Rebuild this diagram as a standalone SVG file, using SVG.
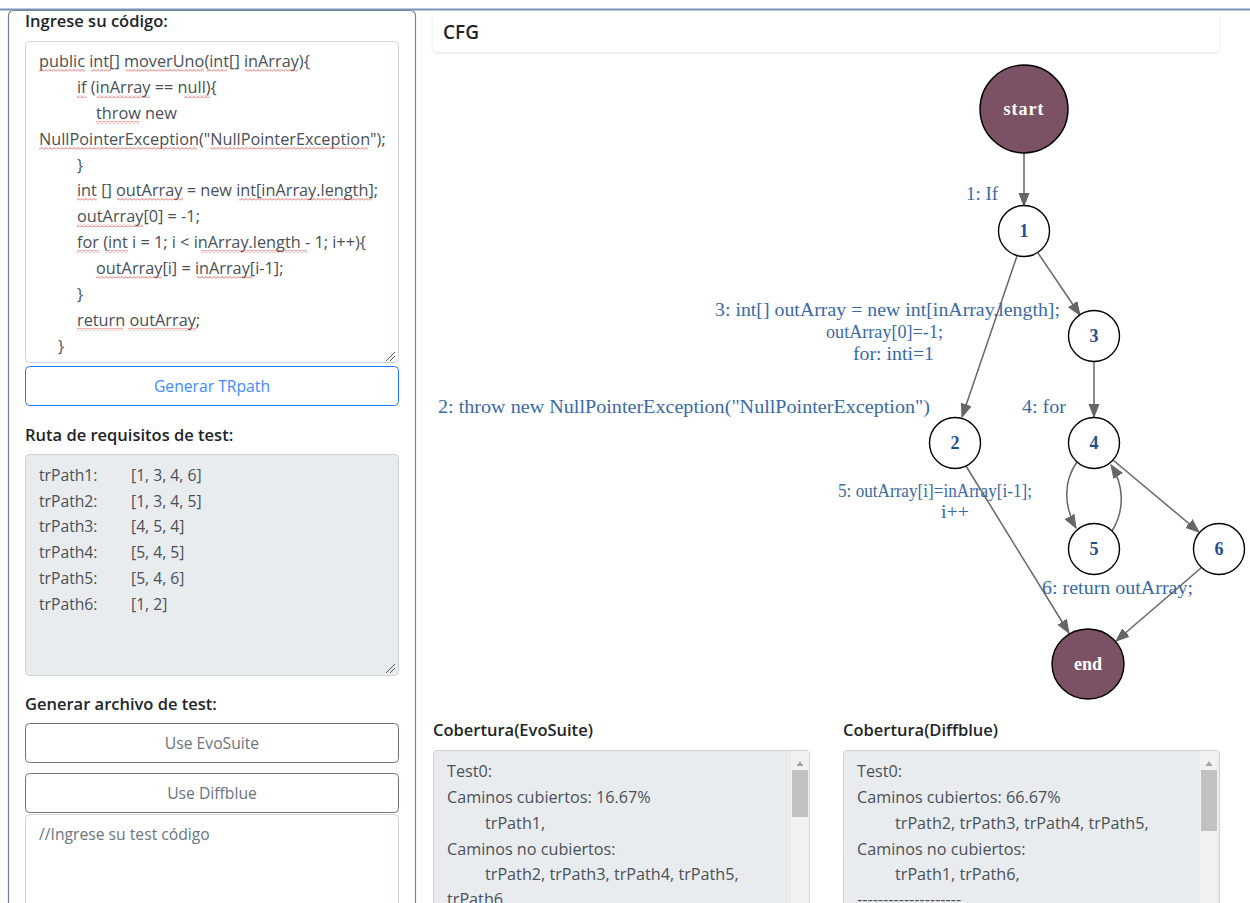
<svg xmlns="http://www.w3.org/2000/svg" width="1250" height="903" viewBox="0 0 1250 903">
  <style>
    .ui { font-family: "Open Sans", "Noto Sans", "Liberation Sans", sans-serif; }
    .h { font-size: 16.5px; font-weight: 600; fill: #212529; }
    .code { font-size: 16.3px; fill: #495057; }
    .mono { font-size: 15.7px; fill: #495057; }
    .cov { font-size: 16.2px; fill: #495057; }
    .btn-txt { font-size: 15.7px; text-anchor: middle; }
    .field { fill: #ffffff; stroke: #ced4da; stroke-width: 1; }
    .ro { fill: #e9ecef; stroke: #ced4da; stroke-width: 1; }
    .node circle, .node ellipse { stroke: #000; stroke-width: 1.4; }
    .plain { fill: #ffffff; }
    .term { fill: #7b5263; }
    .nlab { font-family: "Liberation Serif", "Times New Roman", serif; font-weight: bold; font-size: 18px; text-anchor: middle; fill: #1e4f8e; }
    .tlab { font-family: "Liberation Serif", "Times New Roman", serif; font-weight: bold; font-size: 18px; text-anchor: middle; fill: #ffffff; }
    .elab { font-family: "Liberation Serif", "Times New Roman", serif; font-size: 19px; fill: #3a6aa5; }
    .edge { fill: none; stroke: #666666; stroke-width: 1.5; marker-end: url(#arr); }
    .sq { fill: url(#squiggle); }
  </style>
  <defs>
    <marker id="arr" markerUnits="userSpaceOnUse" markerWidth="14" markerHeight="12" viewBox="0 0 14 12" refX="13" refY="6" orient="auto">
      <path d="M0 1 L13 6 L0 11 Z" fill="#666666" stroke="#666666" stroke-width="1"/>
    </marker>
    <pattern id="squiggle" patternUnits="userSpaceOnUse" width="4" height="3">
      <path d="M0 2.5 L2 0.5 L4 2.5" fill="none" stroke="#e0403a" stroke-width="0.8"/>
    </pattern>
    <filter id="shadow" x="-5%" y="-30%" width="110%" height="160%">
      <feDropShadow dx="0" dy="1" stdDeviation="1.5" flood-color="#000" flood-opacity="0.12"/>
    </filter>
  </defs>

  <rect x="0" y="0" width="1250" height="903" fill="#ffffff"/>

  <!-- window top rule -->
  <line x1="0" y1="9.5" x2="1250" y2="9.5" stroke="#7d93b3" stroke-width="2"/>

  <!-- left panel frame -->
  <path d="M8.5 910 L8.5 16 Q8.5 10.5 14 10.5 L410 10.5 Q415.5 10.5 415.5 16 L415.5 910" fill="none" stroke="#6f84a0" stroke-width="1.2"/>

  <!-- code input -->
  <g id="code-input" class="ui">
    <text class="h" x="25" y="27">Ingrese su código:</text>
    <rect class="field" x="25.5" y="41.5" width="373" height="321" rx="4"/>
    <g class="code">
      <text x="39" y="67">public int[] moverUno(int[] inArray){</text>
      <text x="77" y="93">if (inArray == null){</text>
      <text x="96" y="119">throw new</text>
      <text x="39" y="145">NullPointerException("NullPointerException");</text>
      <text x="77" y="171">}</text>
      <text x="77" y="196">int [] outArray = new int[inArray.length];</text>
      <text x="77" y="222">outArray[0] = -1;</text>
      <text x="77" y="248">for (int i = 1; i &lt; inArray.length - 1; i++){</text>
      <text x="96" y="274">outArray[i] = inArray[i-1];</text>
      <text x="77" y="300">}</text>
      <text x="77" y="326">return outArray;</text>
      <text x="58" y="352">}</text>
    </g>
    <!-- spell-check marks -->
    <g class="sq">
      <rect x="39" y="69" width="46" height="3"/>
      <rect x="91" y="69" width="20" height="3"/>
      <rect x="126" y="69" width="78" height="3"/>
      <rect x="207" y="69" width="20" height="3"/>
      <rect x="245" y="69" width="53" height="3"/>
      <rect x="77" y="95" width="9" height="3"/>
      <rect x="97" y="95" width="53" height="3"/>
      <rect x="184" y="95" width="26" height="3"/>
      <rect x="96" y="121" width="43" height="3"/>
      <rect x="39" y="147" width="158" height="3"/>
      <rect x="210" y="147" width="158" height="3"/>
      <rect x="77" y="198" width="20" height="3"/>
      <rect x="117" y="198" width="66" height="3"/>
      <rect x="239" y="198" width="133" height="3"/>
      <rect x="77" y="224" width="66" height="3"/>
      <rect x="77" y="250" width="22" height="3"/>
      <rect x="105" y="250" width="23" height="3"/>
      <rect x="201" y="250" width="106" height="3"/>
      <rect x="96" y="276" width="66" height="3"/>
      <rect x="197" y="276" width="55" height="3"/>
      <rect x="77" y="328" width="46" height="3"/>
      <rect x="128" y="328" width="69" height="3"/>
    </g>
    <path d="M386 361 L395 352 M390 361 L395 356" stroke="#555" stroke-width="1"/>
  </g>

  <!-- generate button -->
  <g id="btn-trpath" class="ui">
    <rect x="25.5" y="366.5" width="373" height="39" rx="4" fill="#ffffff" stroke="#1a7bff" stroke-width="1"/>
    <text class="btn-txt" x="212" y="392" fill="#3d8bfd">Generar TRpath</text>
  </g>

  <!-- test requirement paths -->
  <g id="trpaths" class="ui">
    <text class="h" x="25" y="441">Ruta de requisitos de test:</text>
    <rect class="ro" x="25.5" y="454.5" width="373" height="221" rx="4"/>
    <g class="mono">
      <text x="39" y="481">trPath1:</text><text x="131" y="481">[1, 3, 4, 6]</text>
      <text x="39" y="507">trPath2:</text><text x="131" y="507">[1, 3, 4, 5]</text>
      <text x="39" y="532">trPath3:</text><text x="131" y="532">[4, 5, 4]</text>
      <text x="39" y="558">trPath4:</text><text x="131" y="558">[5, 4, 5]</text>
      <text x="39" y="584">trPath5:</text><text x="131" y="584">[5, 4, 6]</text>
      <text x="39" y="610">trPath6:</text><text x="131" y="610">[1, 2]</text>
    </g>
    <path d="M386 673 L395 664 M390 673 L395 668" stroke="#555" stroke-width="1"/>
  </g>

  <!-- test file generation -->
  <g id="test-gen" class="ui">
    <text class="h" x="25" y="710">Generar archivo de test:</text>
    <rect x="25.5" y="723.5" width="373" height="39" rx="4" fill="#ffffff" stroke="#6c757d" stroke-width="1"/>
    <text class="btn-txt" x="212" y="749" fill="#6c757d">Use EvoSuite</text>
    <rect x="25.5" y="773.5" width="373" height="39" rx="4" fill="#ffffff" stroke="#6c757d" stroke-width="1"/>
    <text class="btn-txt" x="212" y="799" fill="#6c757d">Use Diffblue</text>
    <rect class="field" x="25.5" y="814.5" width="373" height="110" rx="4"/>
    <text x="39" y="840" font-size="15.7" fill="#6c757d">//Ingrese su test código</text>
  </g>

  <!-- CFG header card -->
  <g id="cfg-header" class="ui">
    <rect x="433" y="12" width="786" height="40" rx="4" fill="#ffffff" filter="url(#shadow)"/>
    <text x="443" y="39" font-size="19" font-weight="600" fill="#212529">CFG</text>
  </g>

  <!-- control flow graph: connectors -->
  <g id="edges">
    <path class="edge" d="M1024 153 L1024 206"/>
    <path class="edge" d="M1017 256 L962 417"/>
    <path class="edge" d="M1038 253 L1080 315"/>
    <path class="edge" d="M1094 361 L1094 417"/>
    <path class="edge" d="M1077 462 C1064 480 1063 505 1076 528"/>
    <path class="edge" d="M1112 531 C1125 510 1124 485 1111 465"/>
    <path class="edge" d="M1113 460 L1199 532"/>
    <path class="edge" d="M966 466 L1069 633"/>
    <path class="edge" d="M1201 568 L1116 641"/>
  </g>

  <!-- edge labels -->
  <g id="edge-labels" class="elab">
    <text x="966" y="200" textLength="32" lengthAdjust="spacingAndGlyphs">1: If</text>
    <text x="715" y="316" textLength="345" lengthAdjust="spacingAndGlyphs">3: int[] outArray = new int[inArray.length];</text>
    <text x="826" y="338" textLength="117" lengthAdjust="spacingAndGlyphs">outArray[0]=-1;</text>
    <text x="853" y="360" textLength="81" lengthAdjust="spacingAndGlyphs">for: inti=1</text>
    <text x="438" y="413" textLength="492" lengthAdjust="spacingAndGlyphs">2: throw new NullPointerException("NullPointerException")</text>
    <text x="1022" y="413" textLength="44" lengthAdjust="spacingAndGlyphs">4: for</text>
    <text x="838" y="497" textLength="194" lengthAdjust="spacingAndGlyphs">5: outArray[i]=inArray[i-1];</text>
    <text x="941" y="518" textLength="28" lengthAdjust="spacingAndGlyphs">i++</text>
    <text x="1042" y="594" textLength="151" lengthAdjust="spacingAndGlyphs">6: return outArray;</text>
  </g>

  <!-- control flow graph: nodes -->
  <g id="node-start" class="node">
    <ellipse class="term" cx="1024" cy="109" rx="44" ry="44"/>
    <text class="tlab" x="1024" y="115" letter-spacing="1">start</text>
  </g>
  <g id="node-1" class="node">
    <circle class="plain" cx="1024" cy="231" r="25.5"/>
    <text class="nlab" x="1024" y="237">1</text>
  </g>
  <g id="node-2" class="node">
    <circle class="plain" cx="955" cy="443" r="25.5"/>
    <text class="nlab" x="955" y="449">2</text>
  </g>
  <g id="node-3" class="node">
    <circle class="plain" cx="1094" cy="336" r="25.5"/>
    <text class="nlab" x="1094" y="342">3</text>
  </g>
  <g id="node-4" class="node">
    <circle class="plain" cx="1094" cy="443" r="25.5"/>
    <text class="nlab" x="1094" y="449">4</text>
  </g>
  <g id="node-5" class="node">
    <circle class="plain" cx="1094" cy="549" r="25.5"/>
    <text class="nlab" x="1094" y="555">5</text>
  </g>
  <g id="node-6" class="node">
    <circle class="plain" cx="1219" cy="549" r="25.5"/>
    <text class="nlab" x="1219" y="555">6</text>
  </g>
  <g id="node-end" class="node">
    <ellipse class="term" cx="1088" cy="664" rx="36" ry="35"/>
    <text class="tlab" x="1088" y="670">end</text>
  </g>

  <!-- coverage: EvoSuite -->
  <g id="cov-evosuite" class="ui">
    <text class="h" x="433" y="736" font-size="15.5">Cobertura(EvoSuite)</text>
    <rect class="ro" x="433.5" y="750.5" width="376" height="170" rx="3"/>
    <rect x="791" y="751" width="18" height="160" fill="#f1f1f1"/>
    <path d="M796.5 766 L800 761 L803.5 766 Z" fill="#a3a3a3"/>
    <rect x="792" y="770" width="16" height="47" fill="#c1c1c1"/>
    <g class="cov">
      <text x="447" y="777">Test0:</text>
      <text x="447" y="803">Caminos cubiertos: 16.67%</text>
      <text x="485" y="829">trPath1,</text>
      <text x="447" y="855">Caminos no cubiertos:</text>
      <text x="485" y="880">trPath2, trPath3, trPath4, trPath5,</text>
      <text x="447" y="905">trPath6</text>
    </g>
  </g>

  <!-- coverage: Diffblue -->
  <g id="cov-diffblue" class="ui">
    <text class="h" x="843" y="736" font-size="15.5">Cobertura(Diffblue)</text>
    <rect class="ro" x="843.5" y="750.5" width="376" height="170" rx="3"/>
    <rect x="1200" y="751" width="18" height="160" fill="#f1f1f1"/>
    <path d="M1205.5 766 L1209 761 L1212.5 766 Z" fill="#a3a3a3"/>
    <rect x="1201" y="770" width="16" height="61" fill="#c1c1c1"/>
    <g class="cov">
      <text x="857" y="777">Test0:</text>
      <text x="857" y="803">Caminos cubiertos: 66.67%</text>
      <text x="895" y="829">trPath2, trPath3, trPath4, trPath5,</text>
      <text x="857" y="855">Caminos no cubiertos:</text>
      <text x="895" y="880">trPath1, trPath6,</text>
      <text x="857" y="905">--------------------</text>
    </g>
  </g>
</svg>
